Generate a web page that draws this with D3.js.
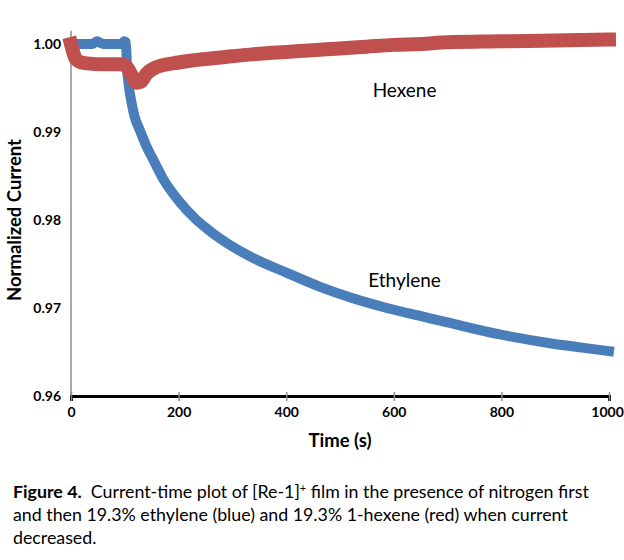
<!DOCTYPE html>
<html>
<head>
	<meta charset="UTF-8">
	<title>Current-time plot</title>
	<script src="https://cdn.jsdelivr.net/npm/d3@7"></script>
	<style>
		html, body {
			margin: 0;
			padding: 0;
			background: #fff;
		}
		svg text {
			font-family: Lato, "Open Sans", sans-serif;
			fill: #000;
		}
		.tick-label {
			font-weight: bold;
			font-size: 14px;
		}
		.axis-title {
			font-weight: bold;
			font-size: 18.5px;
		}
		.caption {
			font-size: 17.8px;
		}
		.series-label {
			font-size: 19px;
		}
	</style>
</head>
<body>
	<svg id="chart" width="624" height="560"></svg>
	<script>
		// values
		var ethyleneTime = [0, 20, 40, 48, 52, 60, 80, 95, 99, 102, 104, 108, 112, 118, 128, 140, 155, 171, 200, 230, 253, 277, 338, 401, 463, 524, 587, 649, 704, 797, 890, 950, 1000];
		var ethyleneCurrent = [1.0000, 1.0000, 1.0000, 1.0003, 1.0002, 1.0000, 1.0000, 1.0000, 1.0003, 1.0002, 0.9975, 0.9950, 0.9935, 0.9918, 0.9902, 0.9884, 0.9866, 0.9847, 0.9822, 0.9802, 0.9790, 0.9779, 0.9757, 0.9740, 0.9724, 0.9711, 0.9700, 0.9691, 0.9683, 0.9670, 0.9660, 0.9655, 0.9651];

		var hexeneTime = [0, 3, 8, 15, 30, 60, 90, 100, 108, 115, 122, 130, 140, 160, 200, 250, 300, 350, 400, 450, 500, 550, 600, 650, 700, 800, 900, 1000];
		var hexeneCurrent = [1.0000, 0.9993, 0.9984, 0.9980, 0.9978, 0.9977, 0.9977, 0.9976, 0.9970, 0.9962, 0.9956, 0.9957, 0.9966, 0.9974, 0.9979, 0.9983, 0.9986, 0.9989, 0.9991, 0.9993, 0.9995, 0.9997, 0.9999, 1.0000, 1.0002, 1.0003, 1.0004, 1.0005];

		var xTicks = [0, 200, 400, 600, 800, 1000];
		var yTicks = [0.96, 0.97, 0.98, 0.99, 1.00];

		var svg = d3.select("#chart");

		var x = d3.scaleLinear().domain([0, 1000]).range([71, 609]);
		var y = d3.scaleLinear().domain([0.96, 1.00]).range([396, 44]);
		var yTop = 1.0015;

		// y axis: grey line, labels only
		svg.append("line")
			.attr("x1", x(0)).attr("x2", x(0))
			.attr("y1", y(0.96)).attr("y2", y(yTop))
			.attr("stroke", "#8c8c8c")
			.attr("stroke-width", 1.5);

		var yAxis = svg.append("g")
			.attr("transform", "translate(" + x(0) + ",0)")
			.call(d3.axisLeft(y).tickValues(yTicks).tickSize(0).tickPadding(10).tickFormat(d3.format(".2f")));
		yAxis.select(".domain").remove();
		yAxis.selectAll("text").attr("class", "tick-label").attr("fill", "#000");

		// x axis: black line with small grey ticks
		var xAxis = svg.append("g")
			.attr("transform", "translate(0," + y(0.96) + ")")
			.call(d3.axisBottom(x).tickValues(xTicks).tickSize(5).tickPadding(6).tickFormat(d3.format("d")));
		xAxis.select(".domain").attr("stroke", "#000").attr("stroke-width", 3);
		xAxis.selectAll(".tick line").attr("stroke", "#8c8c8c").attr("stroke-width", 1.5).attr("y1", -4);
		xAxis.selectAll("text").attr("class", "tick-label").attr("fill", "#000")
			.attr("dx", function(d) { return d === 1000 ? -2 : 0; });

		svg.append("text")
			.attr("class", "axis-title")
			.attr("x", 340).attr("y", 447)
			.attr("text-anchor", "middle")
			.text("Time (s)");

		svg.append("text")
			.attr("class", "axis-title")
			.attr("transform", "translate(21,220) rotate(-90)")
			.attr("text-anchor", "middle")
			.text("Normalized Current");

		// series
		function series(times, vals) {
			return times.map(function(t, i) { return [t, vals[i]]; });
		}
		var line = d3.line()
			.x(function(d) { return x(d[0]); })
			.y(function(d) { return y(d[1]); })
			.curve(d3.curveMonotoneX);

		svg.append("path")
			.datum(series(ethyleneTime, ethyleneCurrent))
			.attr("d", line)
			.attr("fill", "none")
			.attr("stroke", "#4a7ebb")
			.attr("stroke-width", 10)
			.attr("stroke-linejoin", "round")
			.attr("stroke-linecap", "square");

		svg.append("path")
			.datum(series(hexeneTime, hexeneCurrent))
			.attr("d", line)
			.attr("fill", "none")
			.attr("stroke", "#c0504d")
			.attr("stroke-width", 14)
			.attr("stroke-linejoin", "round")
			.attr("stroke-linecap", "square");

		// series labels
		svg.append("text")
			.attr("class", "series-label")
			.attr("x", x(620)).attr("y", y(0.9948) + 7)
			.attr("text-anchor", "middle")
			.text("Hexene");

		svg.append("text")
			.attr("class", "series-label")
			.attr("x", x(620)).attr("y", y(0.9732) + 7)
			.attr("text-anchor", "middle")
			.text("Ethylene");

		// caption
		var cap = svg.append("text").attr("class", "caption").attr("x", 13).attr("y", 498);
		cap.append("tspan").style("font-weight", "bold").text("Figure 4.");
		cap.append("tspan").text("\u00a0 Current-time plot of [Re-1]");
		cap.append("tspan").attr("baseline-shift", "super").style("font-size", "11px").text("+");
		cap.append("tspan").text(" film in the presence of nitrogen first");

		svg.append("text").attr("class", "caption").attr("x", 13).attr("y", 521)
			.text("and then 19.3% ethylene (blue) and 19.3% 1-hexene (red) when current");
		svg.append("text").attr("class", "caption").attr("x", 13).attr("y", 544)
			.text("decreased.");
	</script>
</body>
</html>
